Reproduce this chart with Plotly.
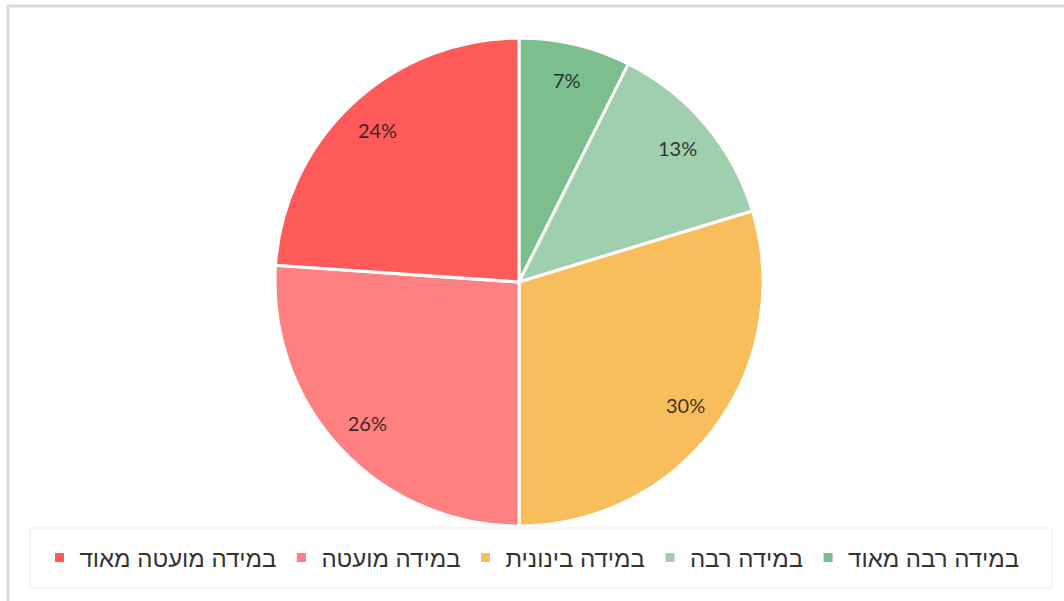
import plotly.graph_objects as go

# Data (clockwise from 12 o'clock; legend is shown reversed, i.e. left->right from "במידה מועטה מאוד")
categories = ["במידה רבה מאוד", "במידה רבה", "במידה בינונית", "במידה מועטה", "במידה מועטה מאוד"]
values = [7.4, 12.9, 29.7, 26.1, 23.9]
colors = ["#7DBE8E", "#A0CFAD", "#F8BE5C", "#FF8080", "#FF5A5A"]

W, H = 1064, 601
dom_x = [275 / W, 763 / W]
dom_y = [1 - 526 / H, 1 - 38 / H]

fig = go.Figure()

# main pie (slices + legend)
fig.add_trace(go.Pie(
    labels=categories, values=values, sort=False,
    direction="clockwise", rotation=0,
    marker=dict(colors=colors, line=dict(color="white", width=3)),
    textinfo="none", hoverinfo="label+percent",
    domain=dict(x=dom_x, y=dom_y),
    showlegend=True,
))

# transparent ring used only to place the percentage labels near the rim
fig.add_trace(go.Pie(
    labels=categories, values=values, sort=False,
    direction="clockwise", rotation=0, hole=0.7,
    marker=dict(colors=["rgba(0,0,0,0)"] * len(values), line=dict(width=0)),
    texttemplate="%{percent:.0%}", textposition="inside",
    insidetextorientation="horizontal",
    textfont=dict(family="Lato, Open Sans, sans-serif", size=20, color="rgba(20,20,20,0.85)"),
    hoverinfo="skip", showlegend=False,
    domain=dict(x=dom_x, y=dom_y),
))

fig.update_layout(
    width=W, height=H,
    margin=dict(l=0, r=0, t=0, b=0),
    paper_bgcolor="white", plot_bgcolor="white",
    legend=dict(
        orientation="h", traceorder="reversed",
        x=0.5, xanchor="center", y=1 - 558 / H, yanchor="middle",
        font=dict(family="Liberation Sans Narrow, Liberation Sans, DejaVu Sans", size=24, color="#333333"),
        bgcolor="rgba(0,0,0,0)", borderwidth=0,
    ),
    shapes=[
        # outer frame
        dict(type="rect", xref="paper", yref="paper", x0=8 / W, x1=1.02, y0=-0.02, y1=1 - 6 / H,
             line=dict(color="#dadada", width=3), fillcolor="rgba(0,0,0,0)", layer="below"),
        # legend box
        dict(type="rect", xref="paper", yref="paper", x0=30 / W, x1=1052 / W, y0=1 - 588 / H, y1=1 - 528 / H,
             line=dict(color="#ececec", width=1), fillcolor="rgba(0,0,0,0)", layer="below"),
    ],
)

fig.write_html("out.html")
